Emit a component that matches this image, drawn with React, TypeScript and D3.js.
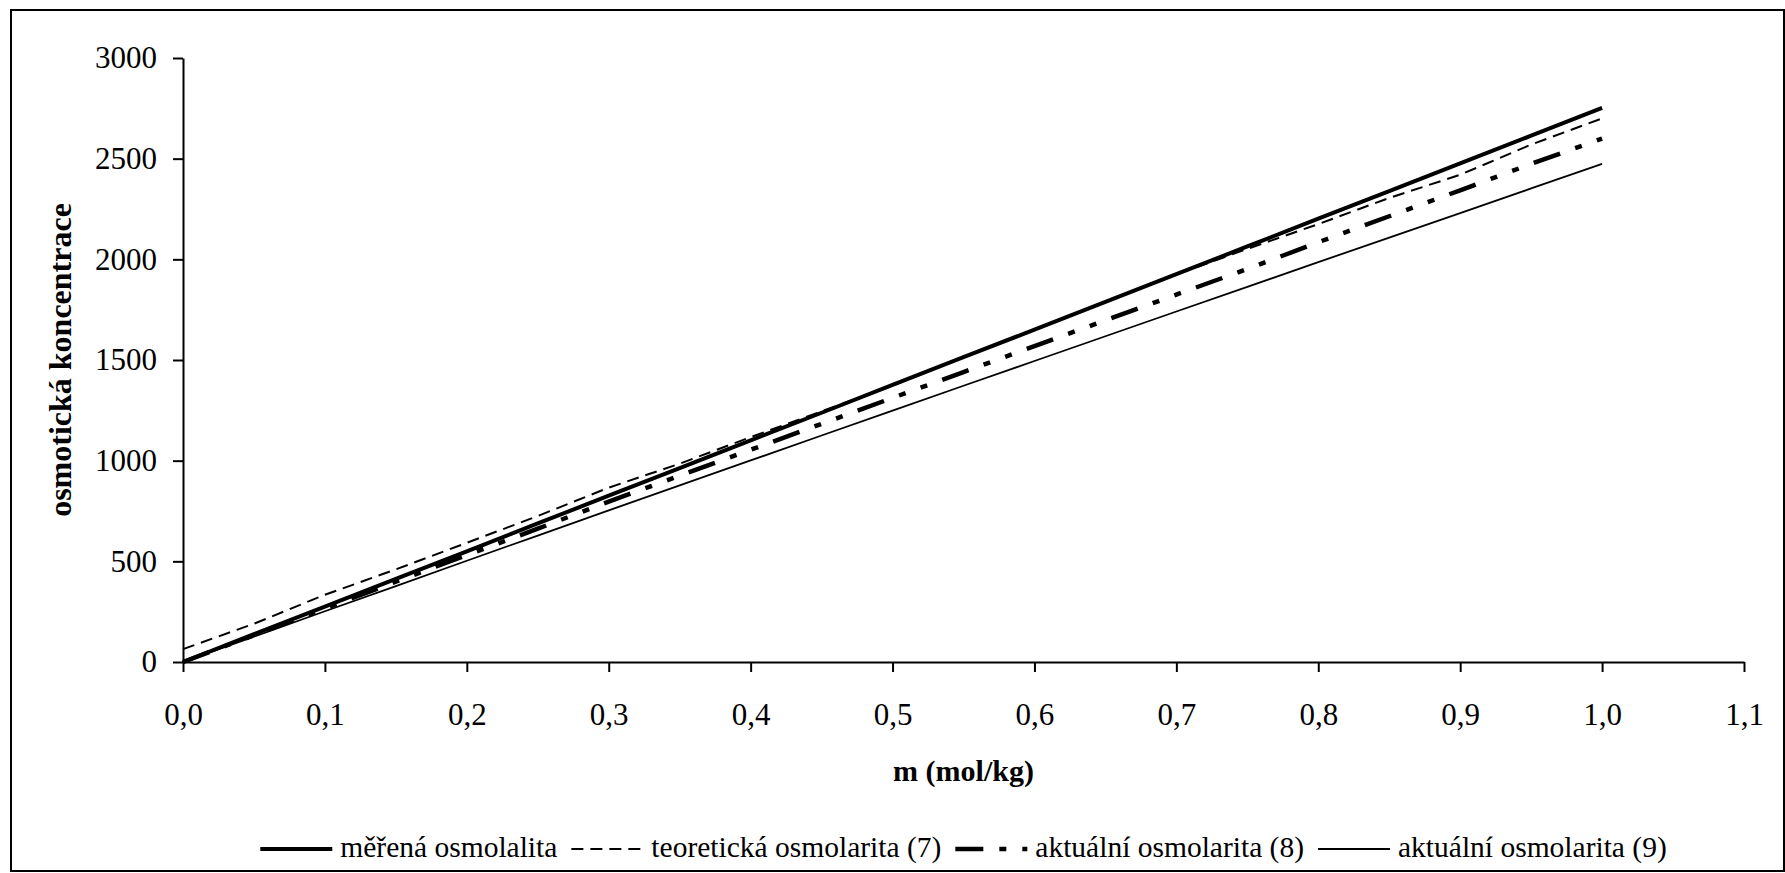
import React, { useEffect, useRef } from 'react';
import * as d3 from 'd3';

// molality (mol/kg) shared by all series
const molality = [0, 0.05, 0.1, 0.15, 0.2, 0.25, 0.3, 0.35, 0.4, 0.45, 0.5, 0.55, 0.6, 0.65, 0.7, 0.75, 0.8, 0.85, 0.9, 0.95, 1.0];

// series values
const measuredOsmolality = [0, 138, 275, 413, 550, 688, 826, 963, 1101, 1238, 1376, 1514, 1651, 1789, 1926, 2064, 2202, 2339, 2477, 2614, 2752];
const theoretical7 = [64, 190, 334, 460, 592, 725, 866, 985, 1117, 1245, 1372, 1515, 1650, 1790, 1925, 2052, 2175, 2305, 2420, 2570, 2700];
const actual8 = [0, 133, 266, 399, 531, 662, 797, 925, 1054, 1183, 1312, 1440, 1569, 1697, 1825, 1952, 2085, 2214, 2343, 2474, 2600];
const actual9 = [0, 126, 252, 377, 503, 628, 753, 877, 1001, 1125, 1249, 1372, 1495, 1618, 1741, 1863, 1986, 2108, 2230, 2352, 2474];

const seriesNames = ['měřená osmolalita', 'teoretická osmolarita (7)', 'aktuální osmolarita (8)', 'aktuální osmolarita (9)'];

const xTicks = [0, 0.1, 0.2, 0.3, 0.4, 0.5, 0.6, 0.7, 0.8, 0.9, 1.0, 1.1];
const yTicks = [0, 500, 1000, 1500, 2000, 2500, 3000];

const xTitle = 'm (mol/kg)';
const yTitle = 'osmotická koncentrace';

const FONT = '"Liberation Serif", "Times New Roman", serif';

const App = () => {
  const svgRef = useRef<SVGSVGElement>(null);

  const W = 1785;
  const H = 873;
  const margin = { top: 58, right: 41, bottom: 211, left: 183 };
  const width = W - margin.left - margin.right;
  const height = H - margin.top - margin.bottom;

  useEffect(() => {
    const svg = d3.select(svgRef.current);
    svg.selectAll('*').remove();

    // outer chart border
    svg
      .append('rect')
      .attr('x', 11)
      .attr('y', 10)
      .attr('width', 1773)
      .attr('height', 861)
      .attr('fill', '#fff')
      .attr('stroke', '#000')
      .attr('stroke-width', 2);

    const g = svg.append('g').attr('transform', `translate(${margin.left},${margin.top})`);

    const x = d3.scaleLinear().domain([0, 1.1]).range([0, width]);
    const y = d3.scaleLinear().domain([0, 3000]).range([height, 0]);

    const commaFmt = d3
      .formatLocale({ decimal: ',', thousands: '', grouping: [3], currency: ['', ''] })
      .format('.1f');

    // axes
    const xAxis = g
      .append('g')
      .attr('transform', `translate(0,${height})`)
      .call(
        d3
          .axisBottom(x)
          .tickValues(xTicks)
          .tickFormat((d) => commaFmt(d as number))
          .tickSize(10)
          .tickSizeOuter(0)
      );
    xAxis.selectAll('text').attr('y', 63).attr('dy', null);

    const yAxis = g.append('g').call(
      d3
        .axisLeft(y)
        .tickValues(yTicks)
        .tickFormat((d) => String(d))
        .tickSize(10)
        .tickSizeOuter(0)
        .tickPadding(16)
    );

    [xAxis, yAxis].forEach((ax) => {
      ax.attr('font-family', FONT).attr('font-size', 31);
      ax.select('.domain').attr('stroke', '#000').attr('stroke-width', 2);
      ax.selectAll('.tick line').attr('stroke', '#000').attr('stroke-width', 2);
      ax.selectAll('text').attr('fill', '#000');
    });

    // lines
    const line = d3
      .line<number>()
      .x((d, i) => x(molality[i]))
      .y((d) => y(d));

    const styles = [
      { data: measuredOsmolality, width: 4, dash: null },
      { data: theoretical7, width: 2, dash: '12,7' },
      { data: actual8, width: 4.5, dash: '28,16,7,16,7,16' },
      { data: actual9, width: 1.8, dash: null },
    ];

    styles.forEach((s) => {
      g.append('path')
        .datum(s.data)
        .attr('d', line)
        .attr('fill', 'none')
        .attr('stroke', '#000')
        .attr('stroke-width', s.width)
        .attr('stroke-dasharray', s.dash);
    });

    // axis titles
    svg
      .append('text')
      .attr('x', margin.left + x(0.55))
      .attr('y', 781)
      .attr('text-anchor', 'middle')
      .attr('font-family', FONT)
      .attr('font-weight', 'bold')
      .attr('font-size', 30)
      .text(xTitle);

    svg
      .append('text')
      .attr('transform', `translate(71,${margin.top + height / 2}) rotate(-90)`)
      .attr('text-anchor', 'middle')
      .attr('font-family', FONT)
      .attr('font-weight', 'bold')
      .attr('font-size', 32)
      .text(yTitle);

    // legend
    const legend = svg.append('g');
    const sampleLen = 72;
    const items = styles.map((s, i) => {
      const item = legend.append('g');
      item
        .append('line')
        .attr('x1', 0)
        .attr('x2', sampleLen)
        .attr('y1', 849)
        .attr('y2', 849)
        .attr('stroke', '#000')
        .attr('stroke-width', s.width)
        .attr('stroke-dasharray', s.dash);
      const t = item
        .append('text')
        .attr('x', sampleLen + 8)
        .attr('y', 857)
        .attr('font-family', FONT)
        .attr('font-size', 29.5)
        .text(seriesNames[i]);
      const w = (t.node() as SVGTextElement).getComputedTextLength();
      return { item, w: sampleLen + 8 + w };
    });
    const gap = 14;
    const total = items.reduce((a, b) => a + b.w, 0) + gap * (items.length - 1);
    let cx = margin.left + x(0.55) - total / 2;
    items.forEach((it) => {
      it.item.attr('transform', `translate(${cx},0)`);
      cx += it.w + gap;
    });
  }, []);

  return (
    <svg
      ref={svgRef}
      width={W}
      height={H}
      style={{ position: 'absolute', left: 0, top: 0, background: '#fff' }}
    ></svg>
  );
};

export default App;
